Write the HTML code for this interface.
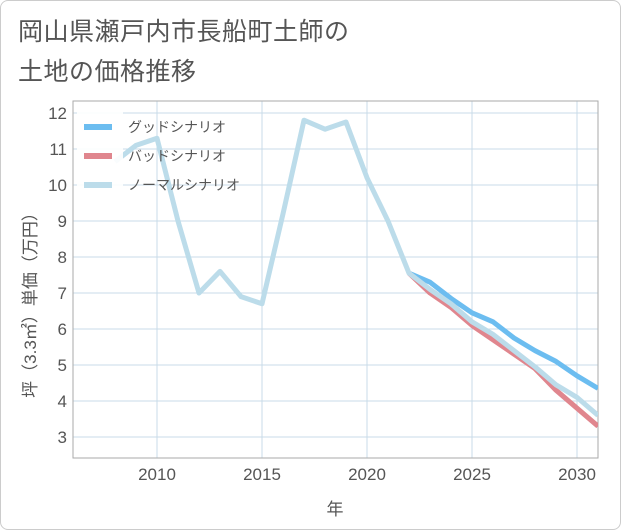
<!DOCTYPE html>
<html><head><meta charset="utf-8"><style>
body{margin:0;background:#fff;font-family:"Liberation Sans","Noto Sans CJK JP",sans-serif;}
#wrap{position:absolute;left:0;top:0;width:619px;height:528px;border:1px solid #ccc;border-radius:8px;overflow:hidden;background:#fff}
#title{position:absolute;left:17px;top:11px;font-size:25px;line-height:40px;color:#555;letter-spacing:0.5px}
</style></head><body>
<div id="wrap">
<div id="title">岡山県瀬戸内市長船町土師の<br>土地の価格推移</div>
<svg id="svg" width="621" height="530" style="position:absolute;left:0;top:0"></svg>
</div>
<script>
const normalYears=[2008,2009,2010,2011,2012,2013,2014,2015,2016,2017,2018,2019,2020,2021,2022,2023,2024,2025,2026,2027,2028,2029,2030,2031];
const normalVals=[10.65,11.1,11.3,9.0,7.0,7.6,6.9,6.7,9.2,11.8,11.55,11.75,10.2,9.0,7.55,7.1,6.7,6.2,5.85,5.4,4.95,4.45,4.1,3.6];
const futureYears=[2022,2023,2024,2025,2026,2027,2028,2029,2030,2031];
const goodVals=[7.55,7.3,6.85,6.45,6.2,5.75,5.4,5.1,4.7,4.35];
const badVals=[7.55,7.0,6.6,6.1,5.7,5.3,4.9,4.3,3.8,3.3];
const xTicks=[2010,2015,2020,2025,2030];
const yTicks=[3,4,5,6,7,8,9,10,11,12];
const L=72,R=597,T=100,B=457;
const X=y=>156+(y-2010)*21;
const Y=v=>112+(12-v)*36;
const svg=document.getElementById('svg');
const NS='http://www.w3.org/2000/svg';
function mk(t,a,p){const e=document.createElementNS(NS,t);for(const k in a)e.setAttribute(k,a[k]);(p||svg).appendChild(e);return e;}
const grid=mk('g',{});


yTicks.forEach(v=>{
 const l=mk('line',{x1:L,x2:R,y1:Y(v),y2:Y(v),stroke:'#c8dbe8','stroke-width':1},grid);
 
 
 const t=mk('text',{x:L-6,y:Y(v)+6,'text-anchor':'end','font-size':17,fill:'#555'});
 t.textContent=v;
 
 
});
xTicks.forEach(v=>{
 const l=mk('line',{x1:X(v),x2:X(v),y1:T,y2:B,stroke:'#c8dbe8','stroke-width':1},grid);
 
 
 const t=mk('text',{x:X(v),y:B+22,'text-anchor':'middle','font-size':17,fill:'#555'});
 t.textContent=v;
 
 
});
const frame=mk('rect',{x:L,y:T,width:R-L,height:B-T,fill:'none',stroke:'#aaa'});


const clip=mk('clipPath',{id:'c'});mk('rect',{x:L,y:T,width:R-L,height:B-T},clip);
function line(xs,vs,color,name){
 const p=mk('polyline',{points:xs.map((y,i)=>X(y)+','+Y(vs[i])).join(' '),fill:'none',stroke:color,'stroke-width':5,'stroke-linejoin':'round','clip-path':'url(#c)'});
 
 
}
line(futureYears,goodVals,'#6cbdf0','good-scenario-line');
line(futureYears,badVals,'#e0868e','bad-scenario-line');
line(normalYears,normalVals,'#bcdcea','normal-scenario-line');
const lg=mk('rect',{x:76,y:108,width:46,height:96,fill:'#fff','fill-opacity':0.9});


[['グッドシナリオ','#6cbdf0'],['バッドシナリオ','#e0868e'],['ノーマルシナリオ','#bcdcea']].forEach((d,i)=>{
 const y=126+i*29;
 const s=mk('line',{x1:83,x2:111,y1:y,y2:y,stroke:d[1],'stroke-width':6});
 
 
 const t=mk('text',{x:127,y:y+5,'font-size':14,fill:'#555'});
 t.textContent=d[0];
 
 
});
const xt=mk('text',{x:334,y:514,'text-anchor':'middle','font-size':17,fill:'#555'});
xt.textContent='年';


const yt=mk('text',{x:0,y:0,'text-anchor':'middle','font-size':17,fill:'#555',transform:'translate(35,300) rotate(-90)'});
yt.textContent='坪（3.3㎡）単価（万円）';


</script>
</body></html>
